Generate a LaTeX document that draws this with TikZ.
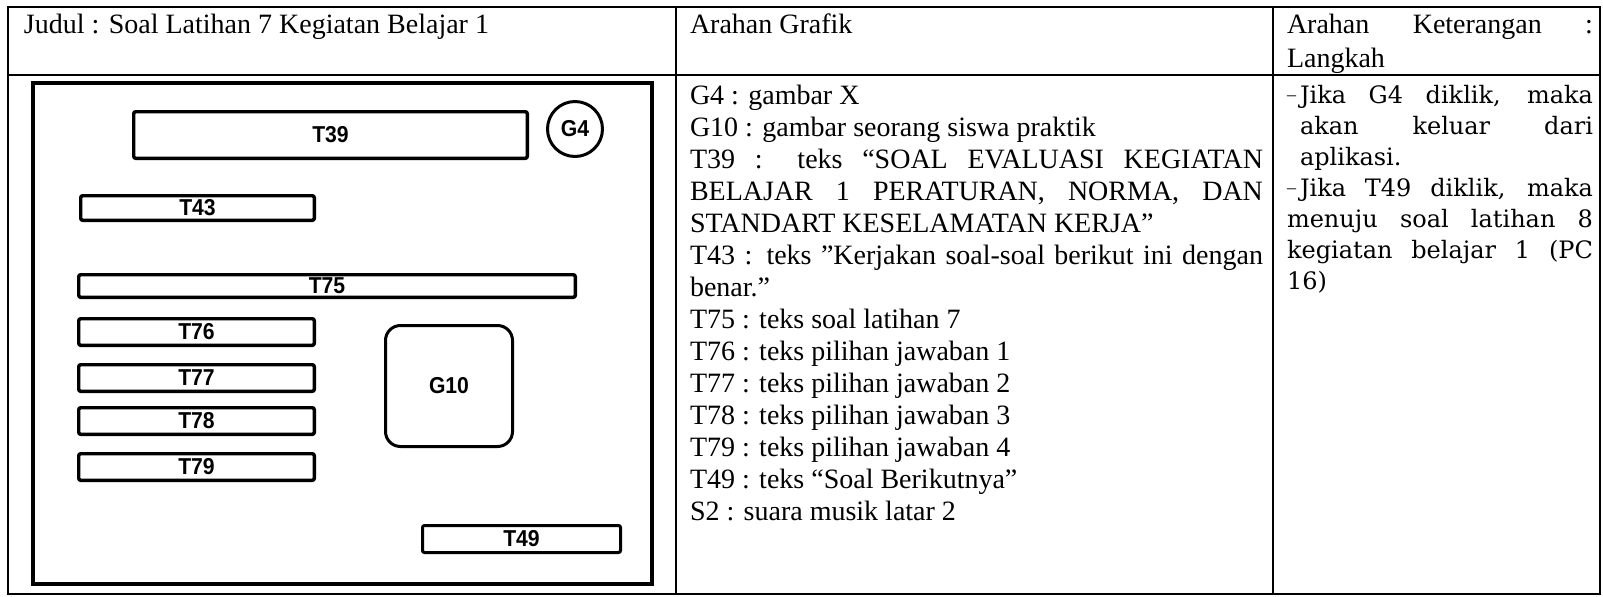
\documentclass[tikz,border=0pt]{standalone}
\usepackage{fontspec}
\setmainfont{Liberation Serif}
\newfontfamily\labelsans{Liberation Sans}[FakeStretch=0.92]
\newfontfamily\stepserif{DejaVu Serif}
\usetikzlibrary{positioning}
\setlength{\parindent}{0pt}
\newcommand{\stepdash}{\makebox[6.5pt][l]{\raisebox{1.2pt}{\rmfamily\fontsize{9}{9}\selectfont–}}}

\begin{document}
\begin{tikzpicture}[x=0.5pt,y=-0.5pt,node distance=9.7pt,
  every node/.style={inner sep=0pt,outer sep=0pt},
  lbl/.style={draw,line width=1.7pt,rounded corners=1pt,font=\labelsans\bfseries\fontsize{11.5}{13}\selectfont},
  opt/.style={lbl,minimum width=117.8pt,minimum height=13.3pt},
  cell/.style={anchor=base west,font=\fontsize{14}{16}\selectfont}]
\useasboundingbox (0,0) rectangle (1603,596);
\draw[line width=0.8pt] (8,7) rectangle (1600,594);
\draw[line width=0.8pt] (8,75) -- (1600,75);
\draw[line width=0.8pt] (676,7) -- (676,594) (1273,7) -- (1273,594);

\node[cell] (judul) at (24,33.5) {Judul : Soal Latihan 7 Kegiatan Belajar 1};
\node[cell] (grafik) at (690,33.5) {Arahan Grafik};
\node[cell,text width=153pt,align=justify,font=\fontsize{14}{17}\selectfont] (ketHead) at (1287,33.5) {Arahan Keterangan :\linebreak Langkah};

\node[draw,line width=2pt,minimum width=309.5pt,minimum height=250.5pt] (layar) at (342.5,333.5) {};
\node[lbl,minimum width=196.8pt,minimum height=23.3pt] (T39) at (330.5,135) {T39};
\node[lbl,circle,line width=1.5pt,rounded corners=0pt,minimum size=27.5pt] (G4) at (575,129) {G4};
\node[lbl,minimum width=116.8pt,minimum height=12.3pt] (T43) at (197.5,208) {T43};
\node[lbl,minimum width=248.3pt,minimum height=11.3pt] (T75) at (327,286) {T75};
\node[opt] (T76) at (196.5,332) {T76};
\node[opt,below=of T76] (T77) {T77};
\node[opt,below=8.2pt of T77] (T78) {T78};
\node[opt,below=of T78] (T79) {T79};
\node[lbl,line width=1.5pt,rounded corners=7.5pt,minimum width=63.5pt,minimum height=60.5pt] (G10) at (449,386) {G10};
\node[lbl,line width=1.5pt,minimum width=99pt,minimum height=13.5pt] (T49) at (521.5,539) {T49};

\node[cell,text width=286.5pt,align=justify] (grafikIsi) at (690,104) {%
G4 : gambar X\par
G10 : gambar seorang siswa praktik\par
T39 : teks “SOAL EVALUASI KEGIATAN\linebreak BELAJAR 1 PERATURAN, NORMA, DAN\linebreak STANDART KESELAMATAN KERJA”\par
T43 : teks ”Kerjakan soal-soal berikut ini dengan\linebreak benar.”\par
T75 : teks soal latihan 7\par
T76 : teks pilihan jawaban 1\par
T77 : teks pilihan jawaban 2\par
T78 : teks pilihan jawaban 3\par
T79 : teks pilihan jawaban 4\par
T49 : teks “Soal Berikutnya”\par
S2 : suara musik latar 2};

\node[cell,text width=153pt,align=justify,font=\stepserif\fontsize{12}{15.5}\selectfont] (langkah) at (1287,103) {%
\hangindent=6.5pt\hangafter=1\stepdash Jika G4 diklik, maka\linebreak akan keluar dari\linebreak aplikasi.\par
\hangindent=6.5pt\hangafter=1\stepdash Jika T49 diklik, maka\linebreak menuju soal latihan 8\linebreak kegiatan belajar 1 (PC\linebreak 16)};
\end{tikzpicture}
\end{document}
